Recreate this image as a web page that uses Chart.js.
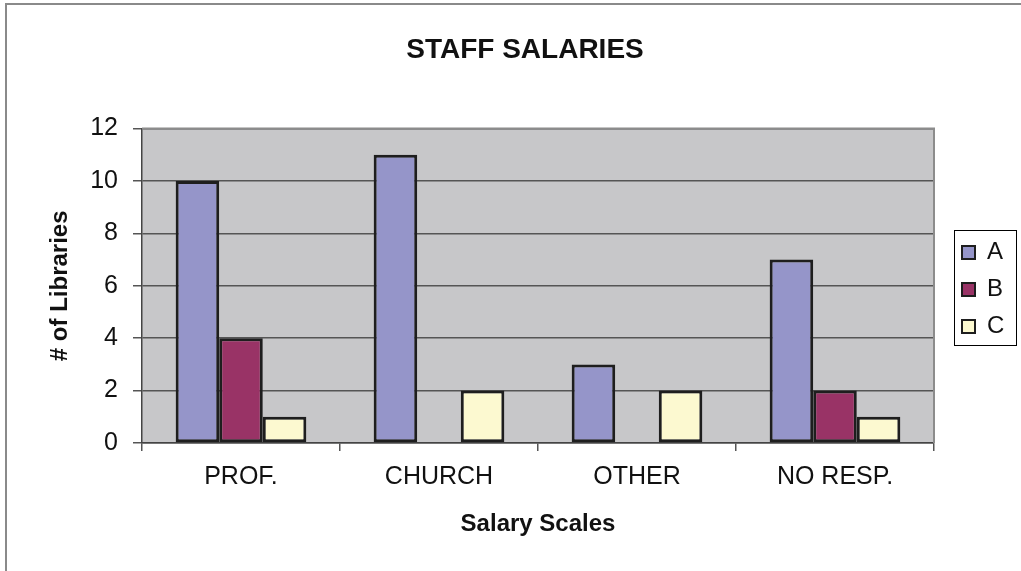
<!DOCTYPE html>
<html>
<head>
<meta charset="utf-8">
<script src="https://cdn.jsdelivr.net/npm/chart.js@4.4.1/dist/chart.umd.min.js"></script>
<style>
  html, body { margin: 0; padding: 0; background: #fff; }
  #wrap { position: relative; width: 1021px; height: 571px; }
</style>
</head>
<body>
<div id="wrap"><canvas id="salaryChart" width="1021" height="571"></canvas></div>
<script>
// données
var categories = ['PROF.', 'CHURCH', 'OTHER', 'NO RESP.'];
var seriesA = [10, 11, 3, 7];
var seriesB = [4, 0, 0, 2];
var seriesC = [1, 2, 2, 1];
var yTicks = [0, 2, 4, 6, 8, 10, 12];

var FONT = "'Liberation Sans', Arial, sans-serif";

// fond gris de la zone de tracé + cadre extérieur + cadre de la légende
var decorPlugin = {
  id: 'decor',
  beforeLayout: function (chart) {
    var lg = chart.legend;
    if (lg && !lg._patched) {
      var fit = lg.fit.bind(lg);
      lg.fit = function () { fit(); this.width = 83; };
      lg._patched = true;
    }
  },
  afterLayout: function (chart) {
    var lg = chart.legend;
    if (lg) {
      lg._boxLeft = lg.left + 20;
      lg.left += 15;
      lg.top += 4;
      lg.bottom += 4;
    }
  },
  beforeDraw: function (chart) {
    var ctx = chart.ctx, a = chart.chartArea;
    ctx.save();
    ctx.fillStyle = '#fff';
    ctx.fillRect(0, 0, chart.width, chart.height);
    ctx.fillStyle = '#C7C7C9';
    ctx.fillRect(a.left, a.top, a.right - a.left, a.bottom - a.top);
    // cadre extérieur (seuls les bords haut et gauche sont visibles)
    ctx.strokeStyle = '#8a8a8a';
    ctx.lineWidth = 2;
    ctx.beginPath();
    ctx.moveTo(6, chart.height + 5);
    ctx.lineTo(6, 4);
    ctx.lineTo(chart.width + 5, 4);
    ctx.stroke();
    ctx.restore();
  },
  afterDraw: function (chart) {
    var ctx = chart.ctx, a = chart.chartArea, lg = chart.legend;
    ctx.save();
    // bords haut et droit de la zone de tracé
    ctx.strokeStyle = '#8c8c8c';
    ctx.lineWidth = 2;
    ctx.beginPath();
    ctx.moveTo(a.left, a.top);
    ctx.lineTo(a.right, a.top);
    ctx.lineTo(a.right, a.bottom);
    ctx.stroke();
    // cadre de la légende
    var hb = lg.legendHitBoxes;
    if (hb && hb.length) {
      var top = hb[0].top, bottom = hb[hb.length - 1].top + hb[hb.length - 1].height;
      var left = Math.round(lg._boxLeft);
      ctx.strokeStyle = '#000';
      ctx.lineWidth = 1;
      ctx.strokeRect(left + 0.5, Math.round(top - 11) + 0.5,
        Math.round(lg.right - 1 - left), Math.round(bottom - top + 17));
    }
    ctx.restore();
  }
};

var data = {
  labels: categories,
  datasets: [
    { label: 'A', data: seriesA, backgroundColor: '#9595C9' },
    { label: 'B', data: seriesB, backgroundColor: '#993366' },
    { label: 'C', data: seriesC, backgroundColor: '#FCF9D0' }
  ]
};
data.datasets.forEach(function (d) {
  d.borderColor = '#1e1e1e';
  d.borderWidth = 3;
  d.borderSkipped = false;
  d.categoryPercentage = 0.66;
  d.barPercentage = 1.0;
});

var options = {
  responsive: false,
  animation: false,
  layout: { padding: { left: 33, right: 4, top: 0, bottom: 0 } },
  plugins: {
    title: {
      display: true,
      text: 'STAFF SALARIES',
      color: '#111',
      font: { family: FONT, size: 28, weight: 'bold' },
      padding: { top: 33, bottom: 62 }
    },
    legend: {
      position: 'right',
      labels: {
        color: '#111',
        font: { family: FONT, size: 24 },
        boxWidth: 13,
        boxHeight: 13,
        padding: 13,
        generateLabels: function (chart) {
          return chart.data.datasets.map(function (d, i) {
            return {
              text: d.label, fillStyle: d.backgroundColor, strokeStyle: '#1e1e1e',
              lineWidth: 2, datasetIndex: i, fontColor: '#111'
            };
          });
        }
      }
    },
    tooltip: { enabled: false }
  },
  scales: {
    x: {
      offset: true,
      grid: { offset: true, drawOnChartArea: false, color: '#555', lineWidth: 1.5, tickLength: 8 },
      border: { color: '#444', width: 1.5 },
      ticks: { color: '#111', font: { family: FONT, size: 25 }, padding: 11, maxRotation: 0 },
      title: {
        display: true, text: 'Salary Scales', color: '#111',
        font: { family: FONT, size: 24, weight: 'bold' }, padding: { top: 32, bottom: 32 }
      },
      afterFit: function (s) { s.height = 128; }
    },
    y: {
      min: 0,
      max: 12,
      afterBuildTicks: function (s) { s.ticks = yTicks.map(function (v) { return { value: v }; }); },
      grid: { color: '#555', lineWidth: 1.5, tickLength: 9 },
      border: { color: '#444', width: 1.5 },
      ticks: { color: '#111', font: { family: FONT, size: 25 }, padding: 15 },
      title: {
        display: true, text: '# of Libraries', color: '#111',
        font: { family: FONT, size: 24, weight: 'bold' }, padding: { top: 13, bottom: 13 }
      },
      afterFit: function (s) { s.width = 109; }
    }
  }
};

new Chart(document.getElementById('salaryChart'), {
  type: 'bar',
  data: data,
  options: options,
  plugins: [decorPlugin]
});
</script>
</body>
</html>
